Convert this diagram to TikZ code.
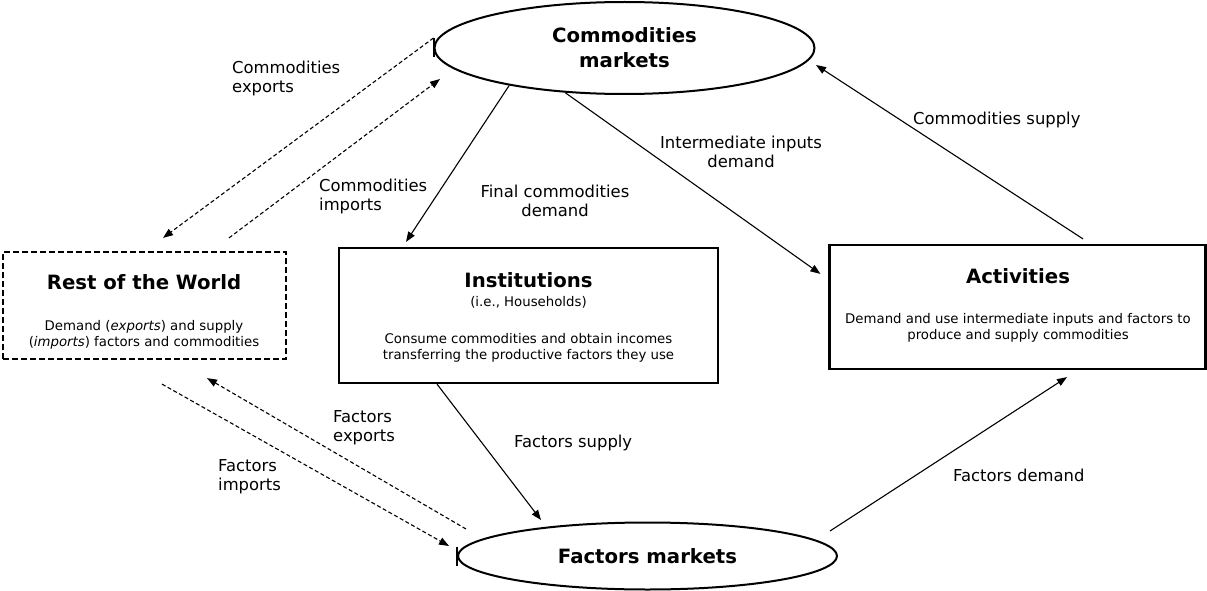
\documentclass[tikz,border=0pt]{standalone}
\usepackage{fontspec}
\setmainfont{DejaVu Sans}
\usetikzlibrary{arrows.meta,shapes.geometric,calc}

\begin{document}
\begin{tikzpicture}[x=1pt,y=-1pt,
    market/.style={ellipse,draw,line width=2pt,inner sep=0pt,align=center,font=\bfseries\fontsize{19.7}{25}\selectfont},
    sector/.style={rectangle,draw,line width=2.2pt,inner sep=0pt},
    title/.style={inner sep=0pt,font=\bfseries\fontsize{19.7}{24}\selectfont},
    body/.style={inner sep=0pt,align=center,font=\fontsize{13.3}{16}\selectfont},
    flow/.style={line width=1.1pt,-{Triangle[length=10pt,width=7.5pt]}},
    trade/.style={flow,dash pattern=on 4pt off 2.5pt},
    lbl/.style={inner sep=0pt,anchor=west,align=left,font=\fontsize{16.4}{19}\selectfont}]
    \useasboundingbox (0,0) rectangle (1207,591);
    \node[market,minimum width=380pt,minimum height=92pt] (cm) at (624.5,48) {Commodities\\markets};
    \node[market,minimum width=379pt,minimum height=67pt] (fm) at (647.5,556) {Factors markets};
    \node[sector,dash pattern=on 6pt off 3pt,minimum width=283pt,minimum height=107pt] (row) at (144.5,305.5) {};
    \node[sector,minimum width=379pt,minimum height=135pt] (inst) at (528.5,315.5) {};
    \node[sector,minimum width=376pt,minimum height=124pt] (act) at (1017.5,307) {};
    \foreach \m in {cm,fm}{
      \draw[line width=2pt] ([yshift=9.5pt]\m.west) -- ([yshift=-9.5pt]\m.west);
    }

    \node[title] (rowtitle) at (144,282) {Rest of the World};
    \node[body] (rowtext) at (144,335) {Demand (\textit{exports}) and supply\\(\textit{imports}) factors and commodities};
    \node[title] (insttitle) at (528.5,280) {Institutions};
    \node[body] (instsub) at (528.5,302) {(i.e., Households)};
    \node[body] (insttext) at (528.5,347.5) {Consume commodities and obtain incomes\\transferring the productive factors they use};
    \node[title] (acttitle) at (1018,276) {Activities};
    \node[body] (acttext) at (1018,328) {Demand and use intermediate inputs and factors to\\produce and supply commodities};

    \node[lbl] (cexplbl) at (232,78.5) {Commodities\\exports};
    \node[lbl] (cimplbl) at (319,196.5) {Commodities\\imports};
    \node[lbl,anchor=center,align=center] (finlbl) at (555,201) {Final commodities\\demand};
    \node[lbl,anchor=center,align=center] (intlbl) at (741,152) {Intermediate inputs\\demand};
    \node[lbl] (csuplbl) at (913,120) {Commodities supply};
    \node[lbl] (fsuplbl) at (514,443) {Factors supply};
    \node[lbl] (fdemlbl) at (953,475) {Factors demand};
    \node[lbl] (fexplbl) at (333,427.5) {Factors\\exports};
    \node[lbl] (fimplbl) at (218,476.5) {Factors\\imports};

    \draw[trade] ($(cm.west)+(0,-10)$) -- ($(row.north)+(18.5,-13)$);
    \draw[trade] ($(row.north)+(84.5,-13)$) -- ($(cm.west)+(6.5,31)$);
    \draw[flow] (cm.198) -- ($(inst.north)+(-122.5,-5)$);
    \draw[flow] (cm.217) -- ($(act.north west)+(-8,30)$);
    \draw[flow] ($(act.north)+(65.5,-5)$) -- ($(cm.east)+(0.5,17)$);
    \draw[flow] ($(inst.south)+(-91.5,0)$) -- ($(fm.center)+(-106.5,-36)$);
    \draw[flow] ($(fm.east)+(-8,-25)$) -- ($(act.south)+(49.5,7)$);
    \draw[trade] ($(fm.west)+(9,-27)$) -- ($(row.south)+(62.5,18)$);
    \draw[trade] ($(row.south)+(17.5,24)$) -- ($(fm.west)+(-8,-10)$);
  \end{tikzpicture}
\end{document}
